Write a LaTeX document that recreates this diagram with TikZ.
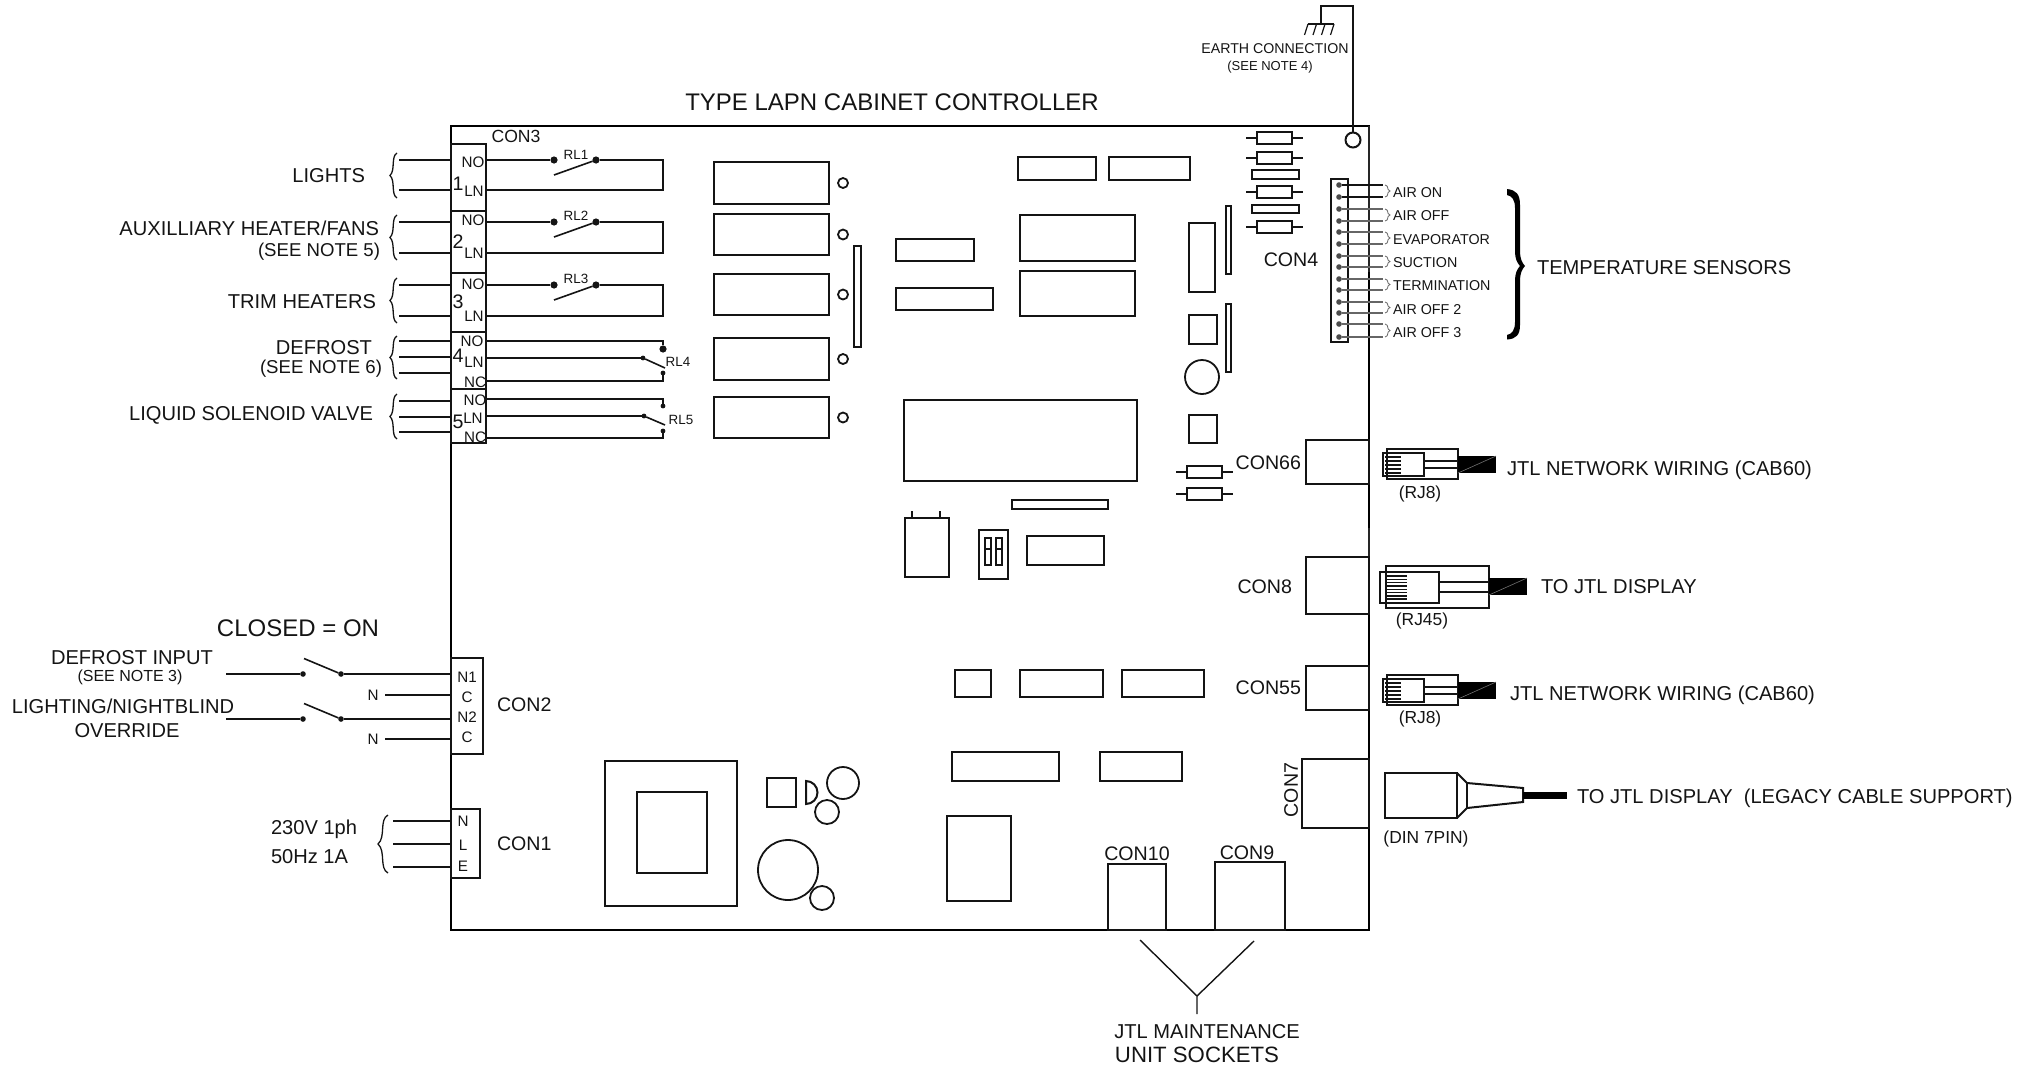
\documentclass[tikz,border=0pt]{standalone}
\usepackage{fontspec}
\setmainfont{Liberation Sans}
\usetikzlibrary{fit,calc}
\definecolor{ink}{gray}{0.08}
\tikzset{
  x=0.5pt,y=-0.5pt,
  every node/.style={inner sep=0pt,outer sep=0pt,text=ink},
  wire/.style={line width=1pt,draw=ink},
  thinwire/.style={line width=0.55pt,draw=black!60},
  part/.style={draw=ink,line width=1pt,inner sep=0pt,outer sep=0pt,fill=none},
  term/.style={circle,fill=ink,minimum size=3.6pt,inner sep=0pt},
  pin/.style={circle,fill=ink,minimum size=2.4pt,inner sep=0pt},
  smalldot/.style={circle,fill=black!70,minimum size=2.8pt,inner sep=0pt},
  ring/.style={circle,draw=ink,line width=0.9pt,inner sep=0pt},
  lbig/.style={font=\fontsize{12}{14}\selectfont,yshift=-0.4pt},
  lmain/.style={font=\fontsize{9.8}{12}\selectfont},
  lmid/.style={font=\fontsize{10.05}{12}\selectfont,yshift=-0.4pt},
  lnote/.style={font=\fontsize{9.3}{11}\selectfont},
  lplug/.style={font=\fontsize{8.7}{10}\selectfont},
  lsmall/.style={font=\fontsize{7.6}{9}\selectfont},
  lrelay/.style={font=\fontsize{6.7}{8}\selectfont},
  ltiny/.style={font=\fontsize{6.5}{8}\selectfont},
  lsense/.style={font=\fontsize{7.15}{9}\selectfont},
  curl/.style={draw=ink,line width=0.65pt},
  tinycurl/.style={draw=black!60,line width=0.4pt},
}
\newcommand{\pbox}[5]{\coordinate (#1-a) at (#2,#3);\coordinate (#1-b) at (#4,#5);\node[part,fit=(#1-a)(#1-b)] (#1) {};}
\newcommand{\resist}[4]{% name, x1, x2, y
  \pbox{#1}{#2}{#4-6}{#3}{#4+6}
  \coordinate (#1-l) at ($(#1.west)+(-11,0)$);\coordinate (#1-r) at ($(#1.east)+(11,0)$);
  \draw[wire] (#1-l) -- (#1.west) (#1.east) -- (#1-r);}
% wavy brace: tip x, end x, top y, bottom y, style
\newcommand{\wavy}[5]{%
  \pgfmathsetmacro\wm{(#3+#4)/2}\pgfmathsetmacro\wh{#4-#3}%
  \draw[#5] (#2,#3) .. controls ({#2-(#2-#1)*0.9},{#3+\wh*0.08}) and ({#2-(#2-#1)*0.2},{#3+\wh*0.38}) .. (#1,\wm)
   .. controls ({#2-(#2-#1)*0.2},{#4-\wh*0.38}) and ({#2-(#2-#1)*0.9},{#4-\wh*0.08}) .. (#2,#4);}
\begin{document}
\begin{tikzpicture}
\useasboundingbox (0,0) rectangle (2033,1066);
% board
\coordinate (bd-a) at (451,126);\coordinate (bd-b) at (1369,930);
\node[fit=(bd-a)(bd-b),draw=black,line width=1.25pt] (board) {};
\coordinate (ed1) at (1369,272);\coordinate (ed2) at (1369,528);\coordinate (ed3) at (1369,557);
\draw[white,line width=1.3pt] (board.north east) ++(0,2) -- (ed1) (ed2) -- (ed3);
\draw[black!85,line width=0.65pt] (board.north east) -- (ed1) (ed2) -- (ed3);
\node[lbig] (title) at (892,101) {TYPE LAPN CABINET CONTROLLER};

% ---- CON3 blocks
\pbox{ca}{451}{144}{486}{211}
\pbox{cb}{451}{211}{486}{273}
\pbox{cc}{451}{273}{486}{332}
\pbox{cd}{451}{332}{486}{389}
\pbox{ce}{451}{389}{486}{443}
\node[lmain,font=\fontsize{8.8}{11}\selectfont] (con3) at (516,136) {CON3};
\foreach \nm/\x/\y/\t in {a1/473/162/NO,a2/474/191/LN,b1/473/220/NO,b2/474/253/LN,c1/473/284/NO,c2/474/316/LN,d1/472/341/NO,d2/474/362/LN,d3/475/382/NC,e1/475/400/NO,e2/473/418/LN,e3/475/437/NC}
  \node[lsmall] (t\nm) at (\x,\y) {\t};
\foreach \nm/\y/\t in {a/184/1,b/242/2,c/302/3,d/356/4,e/422/5}
  \node[lmain] (n\nm) at (458,\y) {\t};

% relays RL1-3
\foreach \r/\b/\yt/\yb/\lab/\ly in {1/ca/160/190/RL1/155,2/cb/222/253/RL2/216,3/cc/285/316/RL3/279}{
  \node[term] (rla\r) at (554,\yt) {};
  \node[term] (rlb\r) at (596,\yt) {};
  \coordinate (rlarm\r) at (554,\yt+15);
  \coordinate (rlc\r) at (663,\yt);
  \coordinate (rld\r) at (663,\yb);
  \draw[wire] (\b.east |- rla\r) -- (rla\r);
  \draw[wire] (rlb\r) -- (rlc\r) -- (rld\r) -- (\b.east |- rld\r);
  \draw[line width=0.8pt,draw=ink] (rlarm\r) -- (rlb\r);
  \node[lrelay] (rll\r) at (576,\ly) {\lab};
  \coordinate (la\r) at (399,\yt);\coordinate (lb\r) at (399,\yb);
  \draw[wire] (la\r) -- (\b.west |- la\r);
  \draw[wire] (lb\r) -- (\b.west |- lb\r);
}
% RL4
\node[term] (r4t) at (663,349) {};
\node[pin] (r4m) at (643,358) {};
\node[pin] (r4b) at (663,373) {};
\coordinate (r4lev) at (665,368);
\coordinate (r4c) at (663,341);\coordinate (r4d) at (663,381);
\draw[wire] (cd.east |- r4c) -- (r4c) -- (r4t);
\draw[wire] (cd.east |- r4m) -- (r4m);
\draw[line width=0.8pt,draw=ink] (r4m) -- (r4lev);
\draw[wire] (r4b) -- (r4d) -- (cd.east |- r4d);
\node[lrelay] (rl4) at (678,362) {RL4};
% RL5
\node[pin] (r5t) at (663,406) {};
\node[pin] (r5m) at (644,416) {};
\node[pin] (r5b) at (663,431) {};
\coordinate (r5lev) at (665,425);
\coordinate (r5c) at (663,399);\coordinate (r5d) at (663,438);
\draw[wire] (ce.east |- r5c) -- (r5c) -- (r5t);
\draw[wire] (ce.east |- r5m) -- (r5m);
\draw[line width=0.8pt,draw=ink] (r5m) -- (r5lev);
\draw[wire] (r5b) -- (r5d) -- (ce.east |- r5d);
\node[lrelay] (rl5) at (681,420) {RL5};
% left wires 4,5
\foreach \b/\n/\y in {cd/1/341,cd/2/357,cd/3/373,ce/4/401,ce/5/417,ce/6/432}{
  \coordinate (lw\n) at (399,\y);
  \draw[wire] (lw\n) -- (\b.west |- lw\n);
}
% braces
\wavy{390}{397}{153}{198}{curl}
\wavy{390}{397}{215}{260}{curl}
\wavy{390}{397}{278}{323}{curl}
\wavy{390}{397}{336}{379}{curl}
\wavy{390}{397}{394}{439}{curl}
% left labels
\node[lmid,anchor=east] (llights) at (365,175) {LIGHTS};
\node[lmid,anchor=east] (lheat) at (379,228) {AUXILLIARY HEATER/FANS};
\node[lnote,anchor=east] (lsn5) at (380,252) {(SEE NOTE 5)};
\node[lmid,anchor=east] (ltrim) at (376,301) {TRIM HEATERS};
\node[lmid,anchor=east] (ldef) at (372,347) {DEFROST};
\node[lnote,anchor=east] (lsn6) at (382,369) {(SEE NOTE 6)};
\node[lmid,anchor=east] (lliq) at (373,415) {LIQUID SOLENOID VALVE};

% ---- relay coil boxes and LEDs
\foreach \n/\ya/\yb in {1/162/204,2/214/255,3/274/315,4/338/380,5/397/438}{
  \pbox{k\n}{714}{\ya}{829}{\yb}
  \node[ring,minimum size=5pt] (led\n) at (843,{(\ya+\yb)/2}) {};
}
\pbox{tb1}{854}{246}{861}{347}
\pbox{p1}{896}{239}{974}{261}
\pbox{p2}{896}{288}{993}{310}
\pbox{p3}{1020}{215}{1135}{261}
\pbox{p4}{1020}{271}{1135}{316}
\pbox{p5}{1018}{157}{1096}{180}
\pbox{p6}{1109}{157}{1190}{180}
\pbox{p7}{904}{400}{1137}{481}
\pbox{p8}{1012}{500}{1108}{509}
\pbox{p9}{905}{518}{949}{577}
\coordinate (p9x1) at (912,511);\coordinate (p9x2) at (940,511);
\draw[line width=0.6pt,draw=ink] (p9x1) -- (p9.north -| p9x1) (p9x2) -- (p9.north -| p9x2);
\pbox{dip}{979}{530}{1008}{579}
\pbox{dipa}{985}{538}{991}{565}
\pbox{dipb}{996}{538}{1002}{565}
\coordinate (dipy) at (985,549);
\draw[line width=0.6pt,draw=ink] (dipy) -- (dipa.east |- dipy);
\draw[line width=0.6pt,draw=ink] (dipb.west |- dipy) -- (dipb.east |- dipy);
\pbox{p10}{1027}{536}{1104}{565}
\resist{rm1}{1187}{1222}{472}
\resist{rm2}{1187}{1222}{494}
\resist{rt1}{1257}{1292}{138}
\resist{rt2}{1257}{1292}{158}
\pbox{rt3}{1252}{170}{1299}{179}
\resist{rt4}{1257}{1292}{192}
\pbox{rt5}{1252}{205}{1299}{213}
\resist{rt6}{1257}{1292}{227}
\pbox{q1}{1189}{223}{1215}{292}
\pbox{tb2}{1226}{206}{1231}{274}
\pbox{q2}{1189}{315}{1217}{344}
\pbox{tb3}{1226}{304}{1231}{372}
\node[ring,minimum size=17pt] (q3) at (1202,377) {};
\pbox{q4}{1189}{415}{1217}{443}
\pbox{u1}{955}{670}{991}{697}
\pbox{u2}{1020}{670}{1103}{697}
\pbox{u3}{1122}{670}{1204}{697}
\pbox{u4}{952}{752}{1059}{781}
\pbox{u5}{1100}{752}{1182}{781}
\pbox{u6}{947}{816}{1011}{901}
% transformer etc
\pbox{tr}{605}{761}{737}{906}
\pbox{tri}{637}{792}{707}{873}
\pbox{sq}{767}{778}{796}{807}
\coordinate (dtop) at (806,781);
\draw[wire] (dtop) arc[start angle=-90,end angle=90,radius=11.5] -- cycle;
\node[ring,minimum size=16pt] (c1) at (843,783) {};
\node[ring,minimum size=12pt] (c2) at (827,812) {};
\node[ring,minimum size=30pt] (c3) at (788,870) {};
\node[ring,minimum size=12pt] (c4) at (822,898) {};

% ---- earth
\node[ring,minimum size=7.5pt,line width=1pt] (earth) at (1353,140) {};
\coordinate (ea) at (1353,6);\coordinate (eb) at (1321,6);\coordinate (ec) at (1321,24);
\draw[wire,line width=0.8pt] (earth) -- (ea) -- (eb) -- (ec);
\coordinate (gl) at (1308,24);\coordinate (gr) at (1334,24);
\draw[wire] (gl) -- (gr);
\foreach \x in {1308,1316.5,1325,1334}
  \draw[line width=0.6pt,draw=ink] (\x,24) -- ++(-3.5,11);
\node[font=\fontsize{7.1}{9}\selectfont] (earthl) at (1275,49) {EARTH CONNECTION};
\node[ltiny] (earthn) at (1270,67) {(SEE NOTE 4)};

% ---- CON4
\pbox{con4}{1331}{179}{1348}{342}
\node[lmain] (con4l) at (1291,260) {CON4};
\foreach \n/\y/\s in {1/185/wire,2/197/wire,3/209/thinwire,4/221/thinwire,5/232/thinwire,6/244/thinwire,7/256/thinwire,8/267/thinwire,9/279/thinwire,10/290/thinwire,11/302/thinwire,12/313/thinwire,13/324/thinwire,14/337/thinwire}{
  \node[smalldot] (cp\n) at (1339,\y) {};
  \coordinate (ce\n) at (1383,\y);
  \draw[\s] (cp\n) -- (ce\n);
}
\foreach \a/\b/\ym/\t in {185/197/193/AIR ON,209/221/216/AIR OFF,232/244/240/EVAPORATOR,256/267/263/SUCTION,279/290/286/TERMINATION,302/313/310/AIR OFF 2,324/337/333/AIR OFF 3}{
  \wavy{1390}{1385}{\a}{\b}{tinycurl}
  \node[lsense,anchor=west] at (1393,\ym) {\t};
}
% big bold brace
\fill[black] (1507,189) .. controls (1516,190) and (1520,194) .. (1520,205) -- (1520,252)
  .. controls (1520,258) and (1522,263) .. (1525,266)
  .. controls (1522,269) and (1520,274) .. (1520,280) -- (1520,325)
  .. controls (1520,335) and (1516,339) .. (1507,339.5) -- (1507,335)
  .. controls (1512,334) and (1515,330) .. (1515,322) -- (1515,280)
  .. controls (1515,274) and (1517,269) .. (1520,266)
  .. controls (1517,263) and (1515,258) .. (1515,252) -- (1515,208)
  .. controls (1515,200) and (1512,196) .. (1507,195) -- cycle;
\node[lmid,anchor=west] (temps) at (1537,267) {TEMPERATURE SENSORS};

% ---- RH sockets
\pbox{s66}{1306}{440}{1369}{484}
\pbox{s8}{1306}{557}{1369}{614}
\pbox{s55}{1306}{666}{1369}{710}
\pbox{s7}{1302}{759}{1369}{828}
\node[lmain,anchor=east] (l66) at (1301,463) {CON66};
\node[lmain,anchor=east] (l8) at (1292,587) {CON8};
\node[lmain,anchor=east] (l55) at (1301,688) {CON55};
\node[lmain,rotate=90] (l7) at (1291,790) {CON7};

% RJ8
\newcommand{\rjeight}[2]{% name, y offset (outer top)
  \pbox{#1o}{1387}{#2}{1458}{#2+30}
  \pbox{#1i}{1383}{#2+4}{1424}{#2+27}
  \coordinate (#1ka) at (1458,#2+12);\coordinate (#1kb) at (1458,#2+19);
  \draw[wire] (#1i.east |- #1ka) -- (#1ka) (#1i.east |- #1kb) -- (#1kb);
  \coordinate (#1ca) at (1458,#2+7);\coordinate (#1cb) at (1496,#2+24);
  \node[fit=(#1ca)(#1cb),fill=black] (#1c) {};
  \draw[black!55,line width=0.3pt] (#1c.south west) -- (#1c.north east);
  \foreach \k in {8,12,16,20,24}\draw[line width=0.7pt,draw=ink] (1385,#2+\k) -- (1401,#2+\k);
}
\rjeight{ra}{449}
\rjeight{rb}{675}
\node[lplug] (lrj1) at (1420,494) {(RJ8)};
\node[lplug] (lrj2) at (1420,719) {(RJ8)};
\node[lmid,anchor=west] (tnet1) at (1507,469) {JTL NETWORK WIRING (CAB60)};
\node[lmid,anchor=west] (tnet2) at (1510,694) {JTL NETWORK WIRING (CAB60)};
% RJ45
\pbox{r4o}{1386}{566}{1489}{608}
\pbox{r4i}{1380}{572}{1439}{603}
\coordinate (r4ka) at (1489,582);\coordinate (r4kb) at (1489,592);
\draw[wire] (r4i.east |- r4ka) -- (r4ka) (r4i.east |- r4kb) -- (r4kb);
\coordinate (r4ca) at (1489,578);\coordinate (r4cb) at (1527,595);
\node[fit=(r4ca)(r4cb),fill=black] (r4cab) {};
\draw[black!55,line width=0.3pt] (r4cab.south west) -- (r4cab.north east);
\foreach \k in {576,579.3,582.6,585.9,589.2,592.5,595.8,599}\draw[line width=0.7pt,draw=ink] (1385,\k) -- (1407,\k);
\node[lplug] (lrj45) at (1422,621) {(RJ45)};
\node[lmid,anchor=west] (tdisp) at (1541,586) {TO JTL DISPLAY};
% DIN
\pbox{din}{1385}{773}{1457}{818}
\coordinate (da) at (1467,783);\coordinate (db) at (1467,808);\coordinate (dc) at (1523,788);\coordinate (dd) at (1523,802);
\draw[wire] (din.north east) -- (da) -- (dc) -- (dd) -- (db) -- (din.south east);
\draw[wire] (da) -- (db);
\coordinate (dk1) at (1567,792);\coordinate (dk2) at (1567,799);
\fill[black] (dc) ++(0,4) -- (dk1) -- (dk2) -- ($(dd)+(0,-3)$) -- cycle;
\node[lplug] (ldin) at (1426,839) {(DIN 7PIN)};
\node[lmid,anchor=west] (tleg) at (1577,797) {TO JTL DISPLAY\ \ (LEGACY CABLE SUPPORT)};

% ---- bottom sockets
\pbox{s10}{1108}{864}{1166}{930}
\pbox{s9}{1215}{862}{1285}{930}
\node[lmain] (l10) at (1137,854) {CON10};
\node[lmain] (l9) at (1247,853) {CON9};
\coordinate (ya) at (1140,940);\coordinate (yb) at (1254,941);\coordinate (yc) at (1197,996);\coordinate (yd) at (1197,1014);
\draw[line width=0.7pt,draw=ink] (ya) -- (yc) -- (yb) (yc) -- (yd);
\node[lmid,align=center] (jtlm) at (1207,1031) {JTL MAINTENANCE};
\node[lmid,font=\fontsize{11.1}{13}\selectfont] (jtlu) at (1197,1054) {UNIT SOCKETS};

% ---- CON2
\pbox{con2}{451}{658}{483}{754}
\foreach \nm/\y/\t in {n1/677/N1,c1/697/C,n2/717/N2,c2/737/C}
  \node[lsmall] (t\nm) at (467,\y) {\t};
\node[lmain,anchor=west] (lcon2) at (497,705) {CON2};
\foreach \k/\y in {1/674,2/719}{
  \coordinate (sw\k) at (226,\y);
  \node[pin,minimum size=2.8pt] (swa\k) at (303,\y) {};
  \node[pin,minimum size=2.8pt] (swb\k) at (341,\y) {};
  \coordinate (swc\k) at (304,\y-15.5);
  \draw[wire] (sw\k) -- (swa\k);
  \draw[wire] (swb\k) -- (con2.west |- swb\k);
  \draw[line width=0.8pt,draw=ink] (swc\k) -- (swb\k);
}
\foreach \k/\y in {1/695,2/739}{
  \node[lsmall] (nl\k) at (373,\y) {N};
  \coordinate (nw\k) at (385,\y);
  \draw[wire] (nw\k) -- (con2.west |- nw\k);
}
\node[font=\fontsize{12}{14}\selectfont] (closed) at (298,628) {CLOSED = ON};
\node[lmid] (ldi) at (132,657) {DEFROST INPUT};
\node[font=\fontsize{8}{10}\selectfont] (lsn3) at (130,677) {(SEE NOTE 3)};
\node[lmid] (lln) at (123,706) {LIGHTING/NIGHTBLIND};
\node[lmid] (lov) at (127,730) {OVERRIDE};

% ---- CON1
\pbox{con1}{451}{809}{480}{878}
\foreach \nm/\y/\t in {n/821/N,l/845/L,e/866/E}
  \node[lsmall] (v\nm) at (463,\y) {\t};
\foreach \k/\y in {1/821,2/844,3/867}{
  \coordinate (pw\k) at (393,\y);
  \draw[wire] (pw\k) -- (con1.west |- pw\k);
}
\wavy{378}{388}{815}{873}{curl}
\node[lmid,anchor=west] (l230) at (271,828) {230V 1ph};
\node[lmid,anchor=west] (l50) at (271,856) {50Hz 1A};
\node[lmain,anchor=west] (lcon1) at (497,844) {CON1};
\end{tikzpicture}
\end{document}
